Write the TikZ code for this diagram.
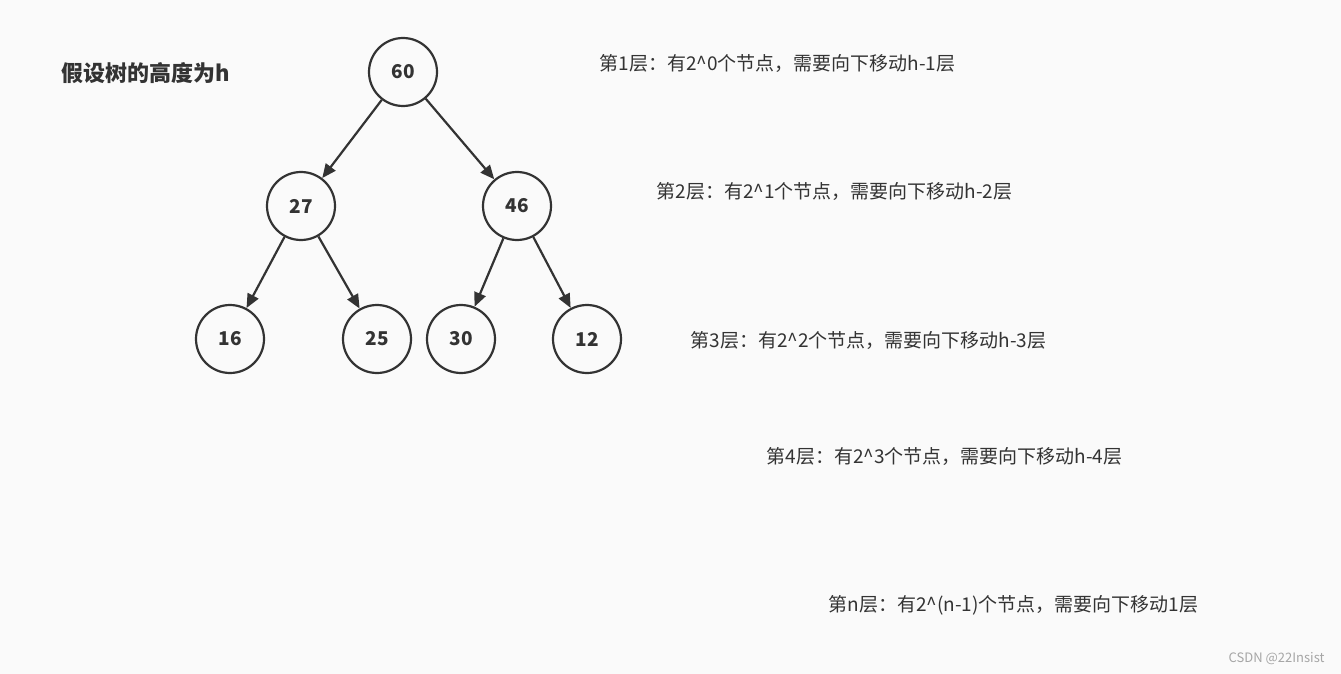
\documentclass[tikz,border=0pt]{standalone}
\usepackage{fontspec}
\setmainfont{Noto Sans CJK SC}
\usetikzlibrary{arrows.meta}
\definecolor{bg}{HTML}{FAFAFA}
\definecolor{ink}{HTML}{333333}
\begin{document}
\begin{tikzpicture}[x=1pt,y=-1pt,
  tn/.style={circle,draw=ink,line width=2.2pt,minimum size=68pt,inner sep=0pt,font=\fontsize{19}{19}\selectfont\bfseries,text=ink},
  ed/.style={draw=ink,line width=2.2pt,-{Triangle[length=14pt,width=12pt]}},
  lt/.style={anchor=west,font=\fontsize{19}{19}\selectfont,text=ink}]
\fill[bg] (0,0) rectangle (1341,674);
\useasboundingbox (0,0) rectangle (1341,674);
\node[tn] (n60) at (403,72) {60};
\node[tn] (n27) at (301,206) {27};
\node[tn] (n46) at (517,206) {46};
\node[tn] (n16) at (230,339) {16};
\node[tn] (n25) at (377,339) {25};
\node[tn] (n30) at (461,339) {30};
\node[tn] (n12) at (587,339) {12};
\draw[ed] (n60) -- (n27);
\draw[ed] (n60) -- (n46);
\draw[ed] (n27) -- (n16);
\draw[ed] (n27) -- (n25);
\draw[ed] (n46) -- (n30);
\draw[ed] (n46) -- (n12);
\node[anchor=west,font=\fontsize{22}{22}\selectfont\bfseries,text=ink] (t) at (58,73) {假设树的高度为h};
\node[lt] (l1) at (596,63) {第1层：有2\^{}0个节点，需要向下移动h-1层};
\node[lt] (l2) at (653,191) {第2层：有2\^{}1个节点，需要向下移动h-2层};
\node[lt] (l3) at (687,340) {第3层：有2\^{}2个节点，需要向下移动h-3层};
\node[lt] (l4) at (763,456) {第4层：有2\^{}3个节点，需要向下移动h-4层};
\node[lt] (l5) at (825,605) {第n层：有2\^{}(n-1)个节点，需要向下移动1层};
\node[anchor=east,font=\fontsize{13}{13}\selectfont,text=gray!70] (w) at (1328,659) {CSDN @22Insist};
\end{tikzpicture}
\end{document}
